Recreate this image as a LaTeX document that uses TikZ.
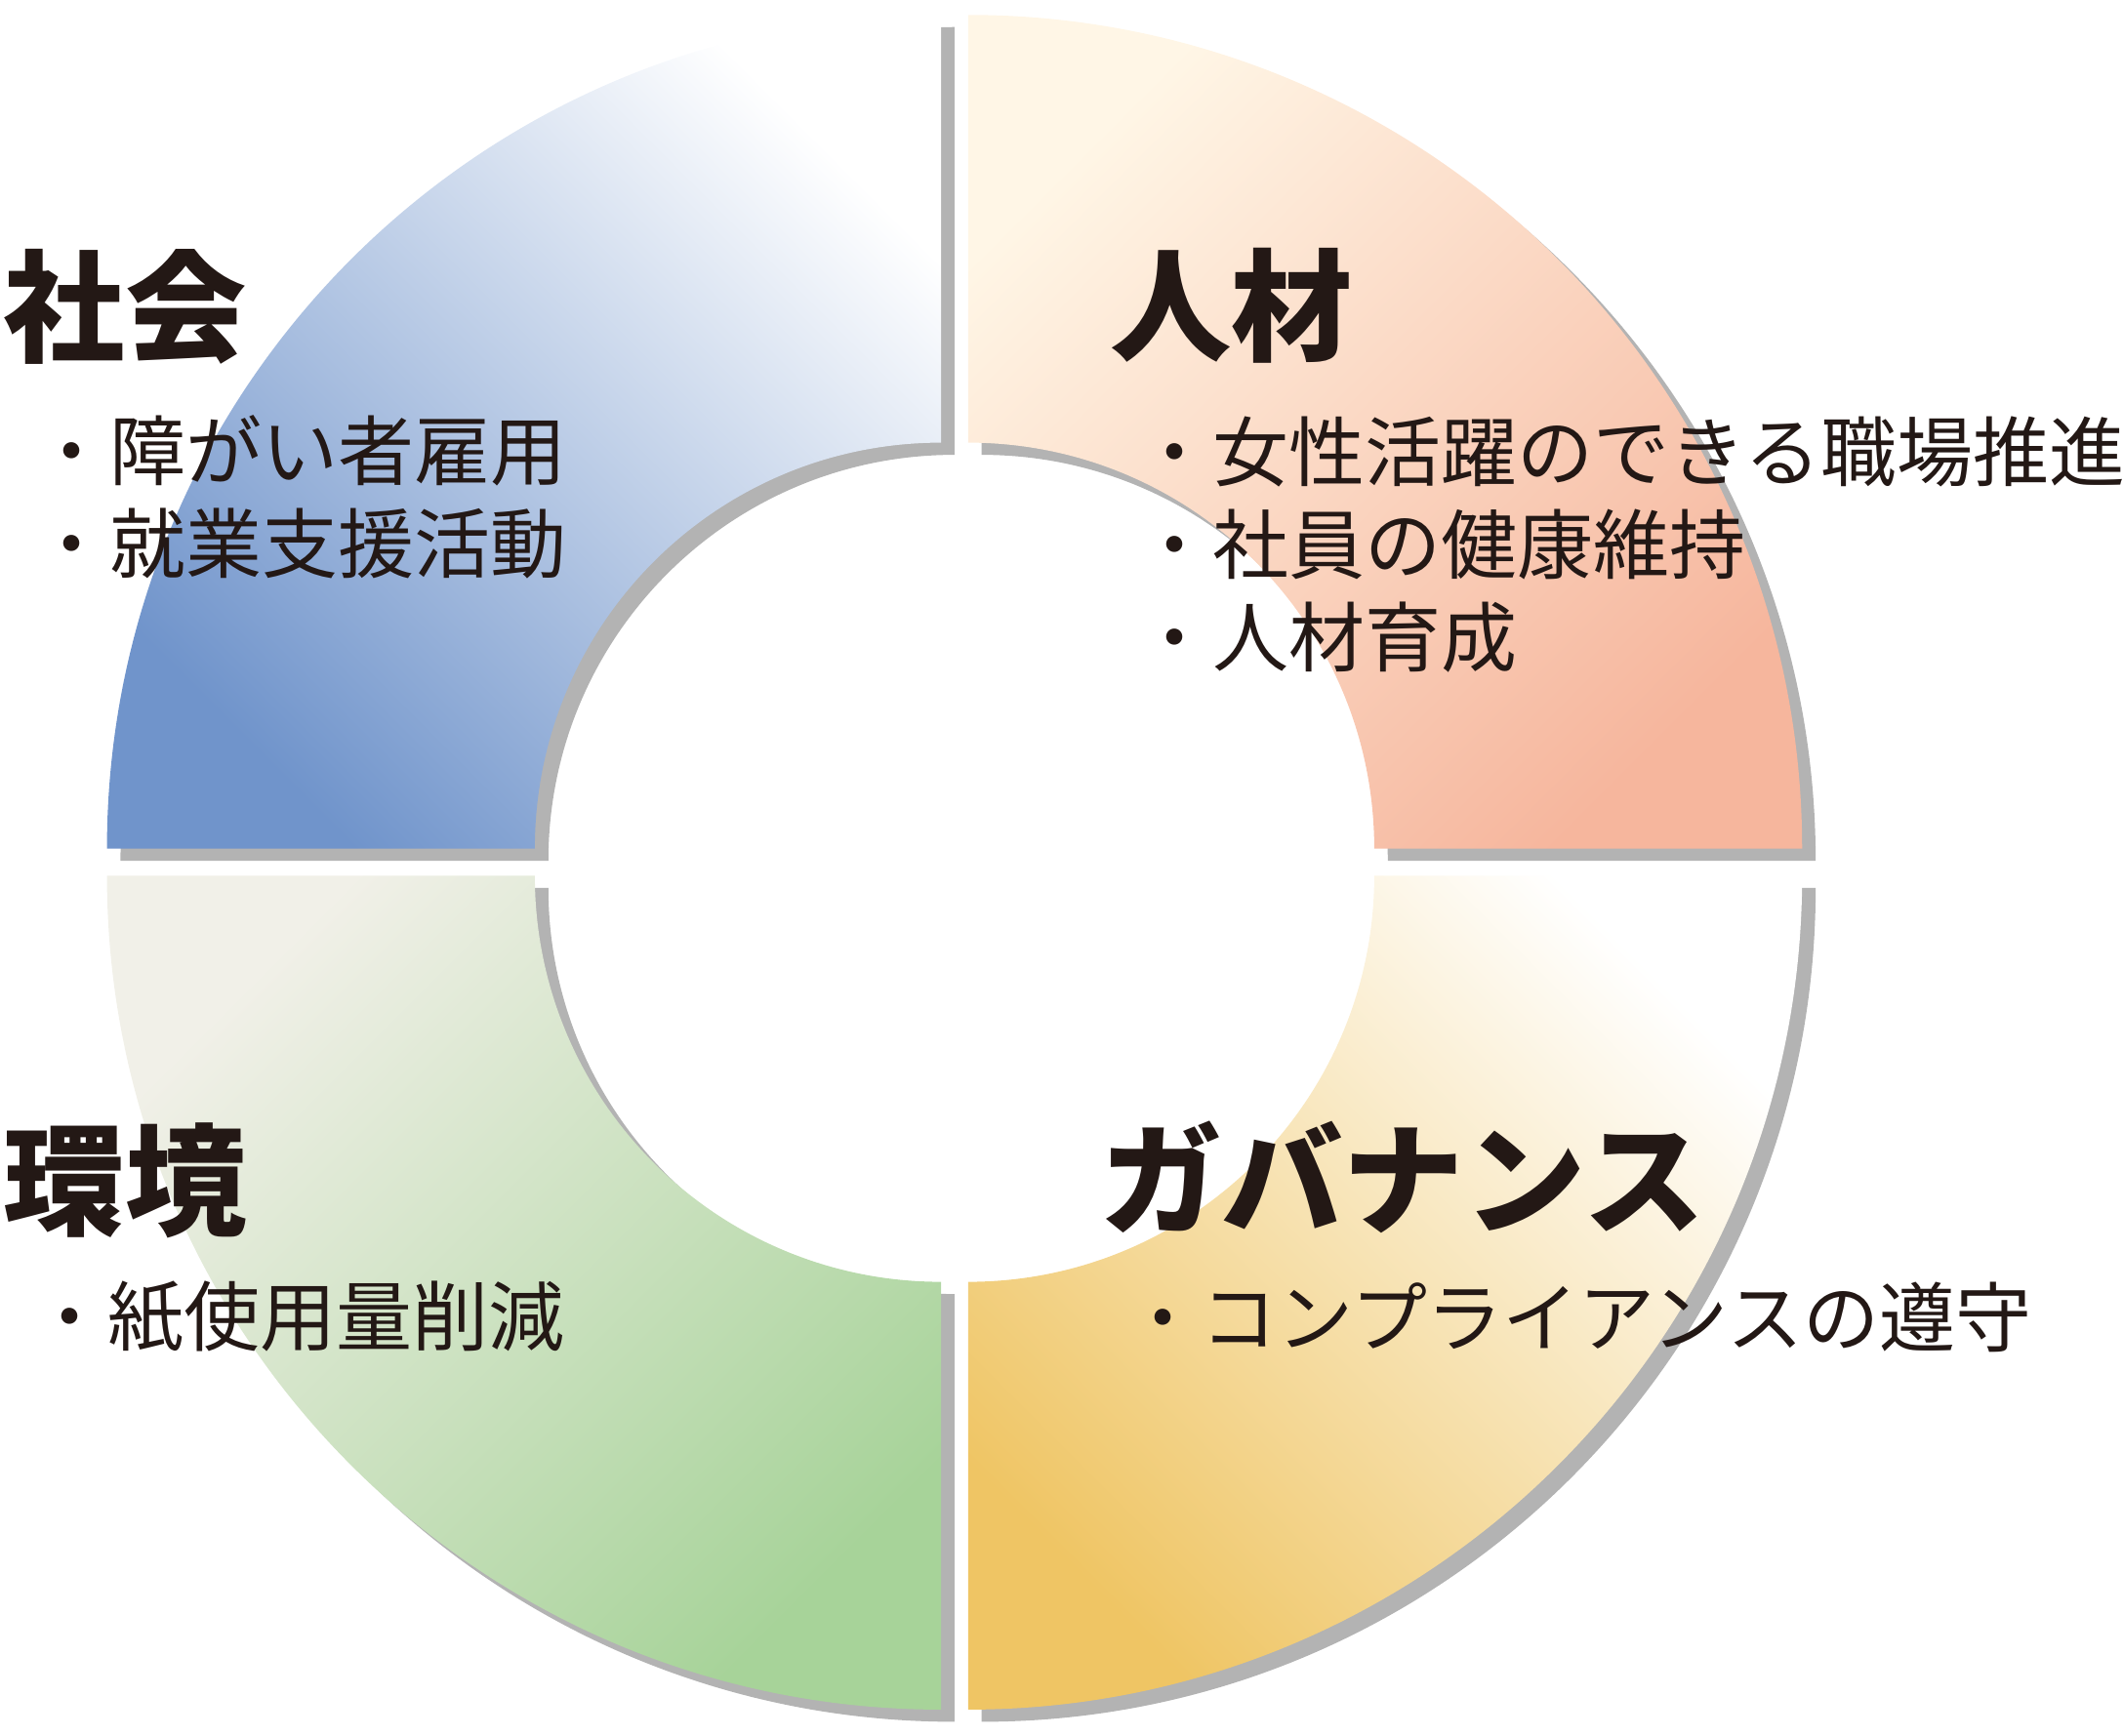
\documentclass[tikz,border=0pt]{standalone}
\usepackage{fontspec}
\newfontfamily\jpfont{Noto Sans CJK JP}
\usetikzlibrary{positioning}
\definecolor{inkbrown}{HTML}{231815}
\definecolor{shadowgray}{HTML}{B3B3B3}
\definecolor{shakaiblue}{HTML}{7094CB}
\definecolor{shakaimid}{HTML}{B0B5E0}
\definecolor{jinzaisalmon}{HTML}{F6B69D}
\definecolor{jinzaimid}{HTML}{FBDAC4}
\definecolor{jinzaicream}{HTML}{FFF6E6}
\definecolor{kankyogreen}{HTML}{A7D399}
\definecolor{kankyomid}{HTML}{D2D8BC}
\definecolor{kankyolight}{HTML}{F1F0E8}
\definecolor{govgold}{HTML}{EFC564}
\definecolor{govmid}{HTML}{D3CBAA}

\begin{document}
\begin{tikzpicture}[x=0.1mm,y=0.1mm,line cap=round,line join=round,
  titletext/.style={anchor=west,inner sep=0pt,text=inkbrown,font=\jpfont\fontsize{25.5}{30}\selectfont\bfseries},
  itemtext/.style={anchor=west,inner sep=0pt,text=inkbrown,align=left,font=\jpfont\fontsize{16}{19.5}\selectfont}]
\path[use as bounding box] (0,0) rectangle (1568,1282);
\fill[shadowgray] (705,646) ++(0,616) arc[start angle=90,end angle=180,radius=616] -- ++(316,0) arc[start angle=180,end angle=90,radius=300] -- cycle;
\fill[shadowgray] (725,646) ++(616,0) arc[start angle=0,end angle=90,radius=616] -- ++(0,-316) arc[start angle=90,end angle=0,radius=300] -- cycle;
\fill[shadowgray] (705,626) ++(-616,0) arc[start angle=180,end angle=270,radius=616] -- ++(0,316) arc[start angle=270,end angle=180,radius=300] -- cycle;
\fill[shadowgray] (725,626) ++(0,-616) arc[start angle=270,end angle=360,radius=616] -- ++(-316,0) arc[start angle=0,end angle=-90,radius=300] -- cycle;
\shade[top color=white,middle color=shakaimid,bottom color=shakaiblue,shading angle=-45] (695,655) ++(0,616) arc[start angle=90,end angle=180,radius=616] -- ++(316,0) arc[start angle=180,end angle=90,radius=300] -- cycle;
\shade[top color=jinzaicream,middle color=jinzaimid,bottom color=jinzaisalmon,shading angle=45] (715,655) ++(616,0) arc[start angle=0,end angle=90,radius=616] -- ++(0,-316) arc[start angle=90,end angle=0,radius=300] -- cycle;
\shade[top color=kankyolight,middle color=kankyomid,bottom color=kankyogreen,shading angle=45] (695,635) ++(-616,0) arc[start angle=180,end angle=270,radius=616] -- ++(0,316) arc[start angle=270,end angle=180,radius=300] -- cycle;
\shade[top color=white,middle color=govmid,bottom color=govgold,shading angle=-45] (715,635) ++(0,-616) arc[start angle=270,end angle=360,radius=616] -- ++(-316,0) arc[start angle=0,end angle=-90,radius=300] -- cycle;
\node[titletext] (shakai) at (2,1055) {社会};
\node[itemtext] (shakaiitems) at (24,915) {・障がい者雇用\\・就業支援活動};
\node[titletext] (jinzai) at (819,1056) {人材};
\node[itemtext] (jinzaiitems) at (839,880) {・女性活躍のできる職場推進\\・社員の健康維持\\・人材育成};
\node[titletext] (kankyo) at (2,410) {環境};
\node[itemtext] (kankyoitems) at (23,309) {・紙使用量削減};
\node[titletext] (governance) at (812,412) {ガバナンス};
\node[itemtext] (governanceitems) at (830,309) {・コンプライアンスの遵守};
\end{tikzpicture}
\end{document}
